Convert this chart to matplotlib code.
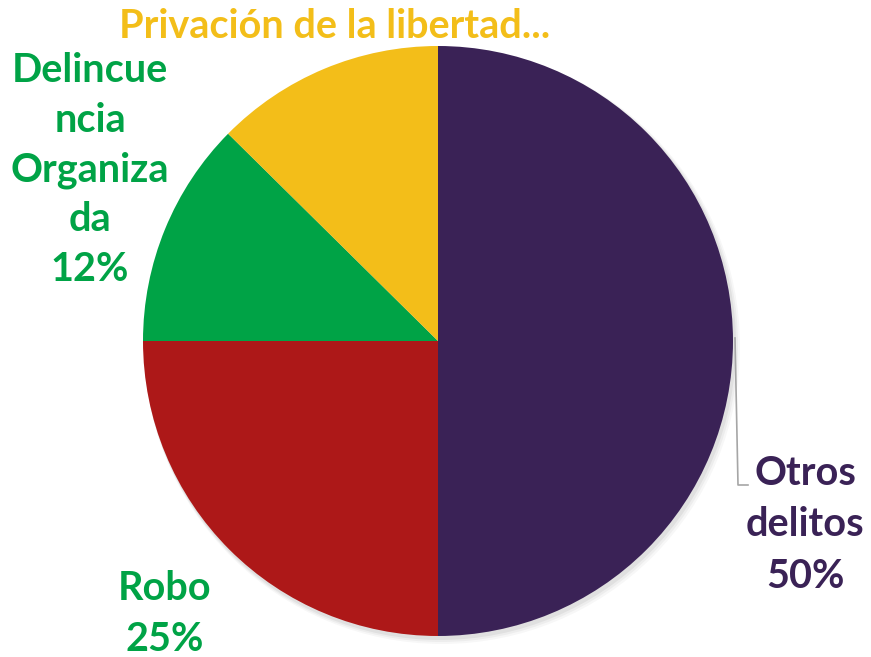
import matplotlib
matplotlib.use("Agg")
import matplotlib.pyplot as plt
from matplotlib.patches import Circle

categories = ["Otros\ndelitos", "Robo", "Delincue\nncia\nOrganiza\nda", "Privación de la libertad..."]
values = [50, 25, 12.4, 12.6]
colors = ["#3A2256", "#AD1818", "#00A346", "#F3BE19"]
label_colors = ["#3A2256", "#00A346", "#00A346", "#F3BE19"]

W, H = 871, 657
fig = plt.figure(figsize=(W / 100, H / 100), dpi=100)
ax = fig.add_axes([0, 0, 1, 1])

cx, cy, r = 438, H - 341, 295

# soft shadow
for i, a in enumerate([0.05, 0.04, 0.03]):
    ax.add_patch(Circle((cx + 2 + i, cy - 3 - i), r + 1 + i, color="black", alpha=a, lw=0, zorder=0))

wedges, _ = ax.pie(values, colors=colors, startangle=90, counterclock=False,
                   center=(cx, cy), radius=r, wedgeprops=dict(linewidth=0), frame=False)
for w in wedges:
    w.set_zorder(2)

ax.set_xlim(0, W)
ax.set_ylim(0, H)
ax.set_aspect("auto")
ax.axis("off")

font = dict(family=["Lato", "DejaVu Sans"], fontweight="bold", fontsize=28.5)
pcts = [f"{v:.0f}%" for v in values]

# Otros delitos
ax.text(805, H - 525, f"{categories[0]}\n{pcts[0]}", color=label_colors[0], ha="center", va="center",
        linespacing=1.47, **font)
# Robo
ax.text(165, H - 614, f"{categories[1]}\n{pcts[1]}", color=label_colors[1], ha="center", va="center",
        linespacing=1.47, **font)
# Delincuencia Organizada
ax.text(90, H - 170, f"{categories[2]}\n{pcts[2]}", color=label_colors[2], ha="center", va="center",
        linespacing=1.42, **font)
# Privación
ax.text(335, H - 26, categories[3], color=label_colors[3], ha="center", va="center", **font)

# leader line
ax.plot([735, 738, 748], [H - 338, H - 485, H - 485], color="#A6A6A6", lw=1.2, zorder=3)

fig.savefig("out.png", dpi=100)
